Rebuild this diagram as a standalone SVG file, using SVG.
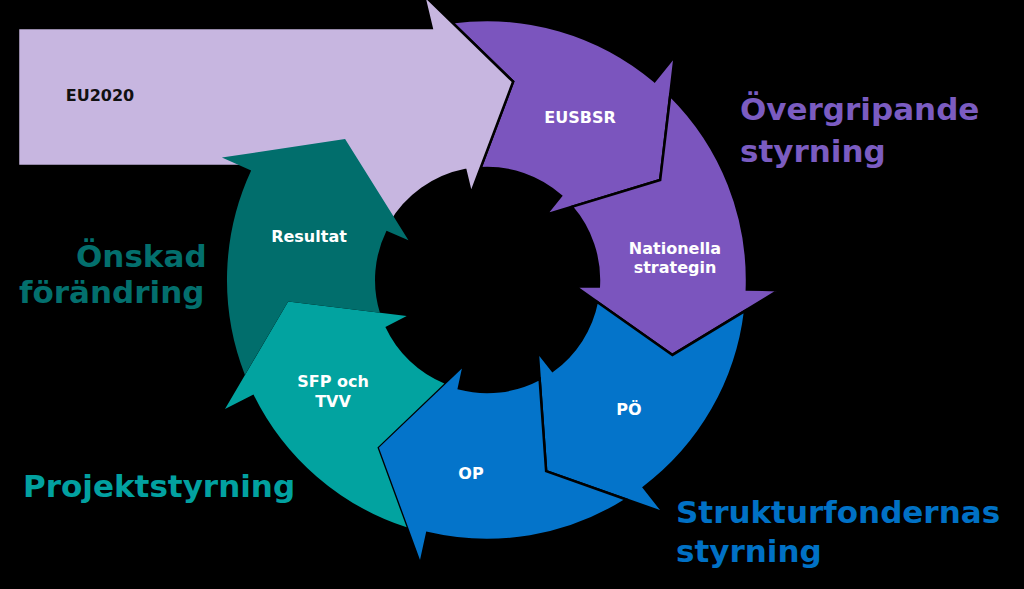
<svg xmlns="http://www.w3.org/2000/svg" width="1024" height="589" viewBox="0 0 1024 589">
<style>
.out{stroke:#000;stroke-width:2.5;stroke-linejoin:miter}
.lav{fill:#C7B6E0}
.pur{fill:#7B55BE}
.blu{fill:#0474CA}
.tea{fill:#02A3A0}
.dte{fill:#016E6C}
.lbl{font-family:"DejaVu Sans","Verdana",sans-serif;font-weight:bold;font-size:16px;fill:#FFFFFF;text-anchor:middle}
.big{font-family:"DejaVu Sans","Verdana",sans-serif;font-weight:bold;font-size:31px}
</style>
<rect x="0" y="0" width="1024" height="589" fill="#000"/>

<g id="node-eusbsr">
<path class="pur out" transform="translate(487,280) rotate(-30)" d="M98.7,-240.6 A260,260 0 0,1 244.5,-88.5 L274.4,-99.9 L200,0 L83.7,-27.2 L106.1,-35.8 A112,112 0 0,0 50.3,-100.1 L121.8,-158.7 Z"/>
<text class="lbl" x="580" y="123">EUSBSR</text>
</g>

<g id="node-eu2020">
<path class="lav out" d="M18,28 L431.7,28 L423.8,-5.1 L513.1,81.7 L471,193.5 L465.4,170.1 A112,112 0 0,0 390,224 L300,166 L18,166 Z"/>
<text class="lbl" x="100" y="101" style="fill:#111">EU2020</text>
</g>

<g id="node-nationella">
<path class="pur out" transform="translate(487,280) rotate(22)" d="M100.8,-239.7 A260,260 0 0,1 244.5,-88.5 L274.4,-99.9 L200,0 L83.7,-27.2 L106.1,-35.8 A112,112 0 0,0 51.2,-99.6 L123.1,-157.6 Z"/>
<text class="lbl" x="675" y="253.5">Nationella</text>
<text class="lbl" x="675" y="272.5">strategin</text>
</g>

<g id="node-po">
<path class="blu out" transform="translate(487,280) rotate(72.8)" d="M105.8,-237.5 A260,260 0 0,1 244.5,-88.5 L274.4,-99.9 L200,0 L83.7,-27.2 L106.1,-35.8 A112,112 0 0,0 53.3,-98.5 L126.4,-155 Z"/>
<text class="lbl" x="629" y="415">PÖ</text>
</g>

<g id="node-op">
<path class="blu out" transform="translate(487,280) rotate(123.2)" d="M107.4,-236.8 A260,260 0 0,1 244.5,-88.5 L274.4,-99.9 L200,0 L83.7,-27.2 L106.1,-35.8 A112,112 0 0,0 54,-98.2 L127.5,-154.1 Z"/>
<text class="lbl" x="471" y="479">OP</text>
</g>

<g id="node-sfp">
<path class="tea" transform="translate(487,280) rotate(173.8)" d="M106.6,-237.2 A260,260 0 0,1 244.5,-88.5 L274.4,-99.9 L200,0 L83.7,-27.2 L106.1,-35.8 A112,112 0 0,0 53.6,-98.3 L127,-154.6 Z"/>
<text class="lbl" x="333" y="387">SFP och</text>
<text class="lbl" x="333" y="407">TVV</text>
</g>

<g id="node-resultat">
<path class="dte" transform="translate(487,280) rotate(224.8)" d="M104.9,-237.9 A260,260 0 0,1 244.5,-88.5 L274.4,-99.9 L200,0 L83.7,-27.2 L106.1,-35.8 A112,112 0 0,0 52.9,-98.7 L125.9,-155.4 Z"/>
<text class="lbl" x="309" y="242">Resultat</text>
</g>

<g id="labels">
<text class="big" x="740" y="120" fill="#7B5CC1">Övergripande</text>
<text class="big" x="740" y="162" fill="#7B5CC1">styrning</text>
<text class="big" x="676" y="523" fill="#0071C5">Strukturfondernas</text>
<text class="big" x="676" y="562" fill="#0071C5">styrning</text>
<text class="big" x="76" y="267" fill="#036F6D">Önskad</text>
<text class="big" x="19" y="303" fill="#036F6D">förändring</text>
<text class="big" x="23" y="497" fill="#02A1A0">Projektstyrning</text>
</g>
</svg>
